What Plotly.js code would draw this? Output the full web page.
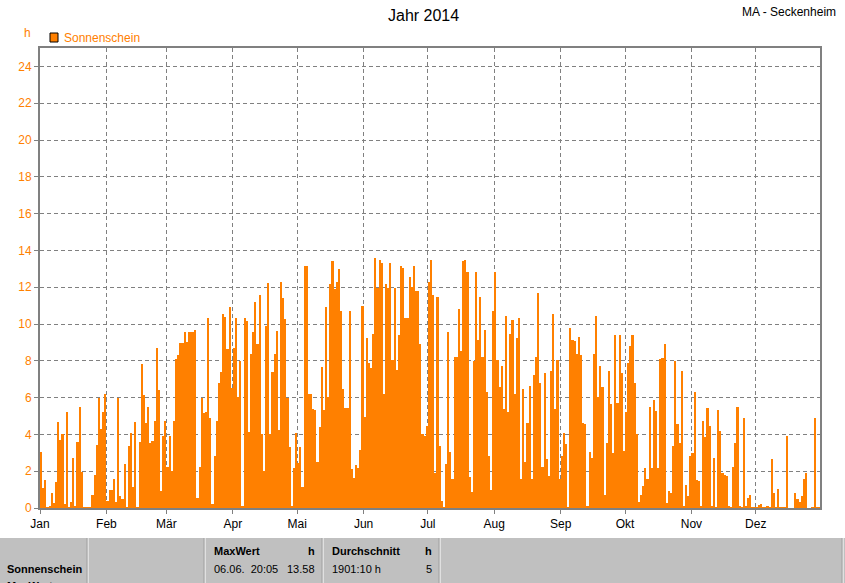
<!DOCTYPE html>
<html><head><meta charset="utf-8">
<script src="https://cdn.plot.ly/plotly-3.0.1.min.js"></script>
<style>html,body{margin:0;padding:0;background:#fff}#chart{width:845px;height:583px}</style>
</head><body><div id="chart"></div>
<script>
// ---- data (daily sunshine hours, 2014) ----
const monthLabels = ['Jan','Feb','Mär','Apr','Mai','Jun','Jul','Aug','Sep','Okt','Nov','Dez'];
const monthDays = [31,28,31,30,31,30,31,31,30,31,30,31];
const sunJan = [3.05,1.1,1.5,0.05,0.1,0.8,0.25,1.4,4.7,3.7,4.0,0.2,5.2,0.05,0.3,2.7,0.1,3.6,5.5,1.95,0.05,0.05,0.05,0.05,0.7,1.8,3.45,6.0,4.3,5.2,6.2];
const sunFeb = [0.4,1.0,1.0,1.6,0.35,6.0,0.65,0.5,2.4,0.05,3.35,4.1,1.15,4.7,0.05,3.6,7.85,6.15,4.6,5.5,3.55,3.65,4.75,8.7,6.4,0.9,3.9,4.75];
const sunMar = [2.25,3.9,2.0,4.75,8.1,8.3,8.95,8.95,9.55,9.0,9.55,9.55,9.55,9.7,0.55,2.25,6.0,5.15,5.2,10.35,4.9,0.2,2.8,4.75,6.8,7.4,10.55,10.4,8.65,10.95,6.5];
const sunApr = [8.7,10.35,6.05,8.0,0.1,10.35,10.15,4.15,8.35,9.55,11.2,8.9,11.6,4.0,2.0,9.9,12.25,4.0,7.4,8.35,9.6,4.25,12.3,11.4,10.25,6.0,3.3,0.1,2.2,4.1];
const sunMay = [2.45,3.3,1.15,13.15,13.15,6.2,6.2,5.4,5.35,2.5,4.4,7.65,5.35,10.95,6.05,12.2,13.45,11.9,12.3,13.0,10.7,6.45,5.45,5.45,10.7,2.1,1.65,2.35,2.2,3.15,11.0];
const sunJun = [4.95,9.25,7.9,7.6,9.45,13.58,11.95,13.5,13.3,6.2,12.15,11.95,13.3,8.05,11.95,7.5,9.4,13.15,13.05,10.3,10.3,12.55,12.0,13.15,11.8,11.8,8.9,4.0,3.9,4.45];
const sunJul = [12.3,13.5,11.6,1.9,11.45,3.35,0.4,0.05,2.4,9.55,3.05,1.6,8.2,8.2,10.8,8.55,13.45,13.5,12.85,1.7,0.85,8.0,12.85,9.15,11.45,8.2,9.7,6.3,2.85,1.0,10.7];
const sunAug = [12.8,8.05,6.6,7.7,5.4,10.45,5.2,9.45,10.2,6.2,9.25,10.3,1.6,6.45,2.5,4.6,6.65,1.6,7.25,8.2,11.7,6.8,2.25,7.35,2.65,1.75,7.45,10.55,5.4,8.05,1.6];
const sunSep = [2.85,4.1,3.5,0.05,9.8,9.15,9.05,8.35,9.3,8.3,4.6,4.55,0.1,3.05,2.7,8.35,10.45,6.05,7.7,6.6,0.7,3.55,7.45,5.65,3.0,9.4,5.7,9.4,7.35,3.1];
const sunOct = [5.2,7.9,8.8,9.4,6.8,4.0,0.35,0.7,1.2,2.2,1.55,5.5,2.15,5.85,5.25,2.15,8.1,8.15,8.9,0.25,0.95,0.8,3.35,8.0,4.55,3.55,7.45,0.1,1.25,0.65,2.8];
const sunNov = [3.0,6.3,1.5,1.45,0.1,4.75,3.85,5.45,4.45,0.1,2.7,0.05,5.3,4.2,1.9,1.8,1.75,0.1,0.05,2.25,3.55,5.5,0.1,0.05,4.9,0.1,0.55,0.7,0.05,0.05];
const sunDec = [0.05,0.15,0.2,0.05,0.05,0.1,0.05,2.65,0.8,0.05,1.05,0.05,0.05,0.05,3.9,0,0,0,0.8,0.5,0.35,0.65,1.6,1.9,0,0,0.05,4.9,0.05,0.05,0.05];
const yTicks = [0,2,4,6,8,10,12,14,16,18,20,22,24];
const seriesName = 'Sonnenschein';
const tableHead = ['MaxWert','h','Durchschnitt','h'];
const tableRow = ['06.06.  20:05','13.58','1901:10 h','5'];

// ---- build ----
const sunshine = [].concat(sunJan,sunFeb,sunMar,sunApr,sunMay,sunJun,sunJul,sunAug,sunSep,sunOct,sunNov,sunDec);
const days = sunshine.map((_, i) => i + 0.5);
const monthStarts = [];
monthDays.reduce((acc, n) => { monthStarts.push(acc); return acc + n; }, 0);

const ORANGE = '#FF8000';
const L = 40, R = 820, T = 48, B = 508;
const X = px => (px - L) / (R - L);
const Y = py => (B - py) / (B - T);

function txt(text, px, py, opts) {
  return Object.assign({
    text: text, xref: 'paper', yref: 'paper', x: X(px), y: Y(py),
    xanchor: 'left', yanchor: 'middle', showarrow: false,
    font: {family: 'Liberation Sans, Arial, sans-serif', size: 12, color: '#000'}
  }, opts || {});
}

const annotations = [
  txt('Jahr 2014', 423, 15, {xanchor: 'center', font: {family: 'Liberation Sans, Arial, sans-serif', size: 16, color: '#000'}}),
  txt('MA - Seckenheim', 838, 12, {xanchor: 'right', font: {family: 'Liberation Sans, Arial, sans-serif', size: 12, color: '#000'}}),
  txt('h', 27, 33, {xanchor: 'center', font: {family: 'Liberation Sans, Arial, sans-serif', size: 12, color: ORANGE}}),
  txt(seriesName, 62, 38, {font: {family: 'Liberation Sans, Arial, sans-serif', size: 12, color: ORANGE}}),
  txt('<b>' + seriesName + '</b>', 5, 569, {font: {family: 'Liberation Sans, Arial, sans-serif', size: 11, color: '#000'}}),
  txt('<b>MaxWert</b>', 5, 586, {font: {family: 'Liberation Sans, Arial, sans-serif', size: 11, color: '#000'}}),
  txt('<b>' + tableHead[0] + '</b>', 212, 551, {font: {family: 'Liberation Sans, Arial, sans-serif', size: 11, color: '#000'}}),
  txt('<b>' + tableHead[1] + '</b>', 317, 551, {xanchor: 'right', font: {family: 'Liberation Sans, Arial, sans-serif', size: 11, color: '#000'}}),
  txt(tableRow[0], 212, 569, {font: {family: 'Liberation Sans, Arial, sans-serif', size: 11, color: '#000'}}),
  txt(tableRow[1], 317, 569, {xanchor: 'right', font: {family: 'Liberation Sans, Arial, sans-serif', size: 11, color: '#000'}}),
  txt('<b>' + tableHead[2] + '</b>', 330, 551, {font: {family: 'Liberation Sans, Arial, sans-serif', size: 11, color: '#000'}}),
  txt('<b>' + tableHead[3] + '</b>', 434, 551, {xanchor: 'right', font: {family: 'Liberation Sans, Arial, sans-serif', size: 11, color: '#000'}}),
  txt(tableRow[2], 330, 569, {font: {family: 'Liberation Sans, Arial, sans-serif', size: 11, color: '#000'}}),
  txt(tableRow[3], 434, 569, {xanchor: 'right', font: {family: 'Liberation Sans, Arial, sans-serif', size: 11, color: '#000'}})
];

const shapes = [
  {type: 'rect', xref: 'paper', yref: 'paper', x0: X(50), x1: X(58), y0: Y(42), y1: Y(33),
   fillcolor: ORANGE, line: {color: '#000', width: 1}},
  {type: 'rect', xref: 'paper', yref: 'paper', x0: X(0), x1: X(845), y0: Y(584), y1: Y(538),
   fillcolor: '#C0C0C0', line: {width: 0}, layer: 'below'}
];
[88, 205, 323, 440, 843].forEach(sx => {
  shapes.push({type: 'line', xref: 'paper', yref: 'paper', x0: X(sx), x1: X(sx), y0: Y(538), y1: Y(584),
    line: {color: '#FFFFFF', width: 1}});
  shapes.push({type: 'line', xref: 'paper', yref: 'paper', x0: X(sx - 1), x1: X(sx - 1), y0: Y(538), y1: Y(584),
    line: {color: '#A0A0A0', width: 1}});
});

const trace = {
  type: 'bar', x: days, y: sunshine, width: 1, name: seriesName,
  marker: {color: ORANGE, line: {width: 0}},
  hoverinfo: 'skip', showlegend: false
};

const axisCommon = {
  showgrid: true, gridcolor: '#808080', gridwidth: 1, griddash: '4px,3px',
  showline: true, linecolor: '#808080', linewidth: 2, mirror: true,
  ticks: 'outside', ticklen: 4, tickcolor: '#808080', tickwidth: 1,
  zeroline: false, fixedrange: true
};

const layout = {
  width: 845, height: 583,
  margin: {l: L, r: 845 - R, t: T, b: 583 - B, pad: 0},
  paper_bgcolor: '#FFFFFF', plot_bgcolor: '#FFFFFF',
  bargap: 0, showlegend: false,
  font: {family: 'Liberation Sans, Arial, sans-serif', size: 12, color: '#000'},
  xaxis: Object.assign({}, axisCommon, {
    range: [0, 364], tickmode: 'array', tickvals: monthStarts, ticktext: monthLabels,
    tickfont: {family: 'Liberation Sans, Arial, sans-serif', size: 12, color: '#000'}
  }),
  yaxis: Object.assign({}, axisCommon, {
    range: [0, 25], tickmode: 'array', tickvals: yTicks, ticktext: yTicks.map(String),
    tickfont: {family: 'Liberation Sans, Arial, sans-serif', size: 12, color: ORANGE}
  }),
  annotations: annotations,
  shapes: shapes
};

Plotly.newPlot('chart', [trace], layout, {staticPlot: true, displayModeBar: false});
</script>
</body></html>
